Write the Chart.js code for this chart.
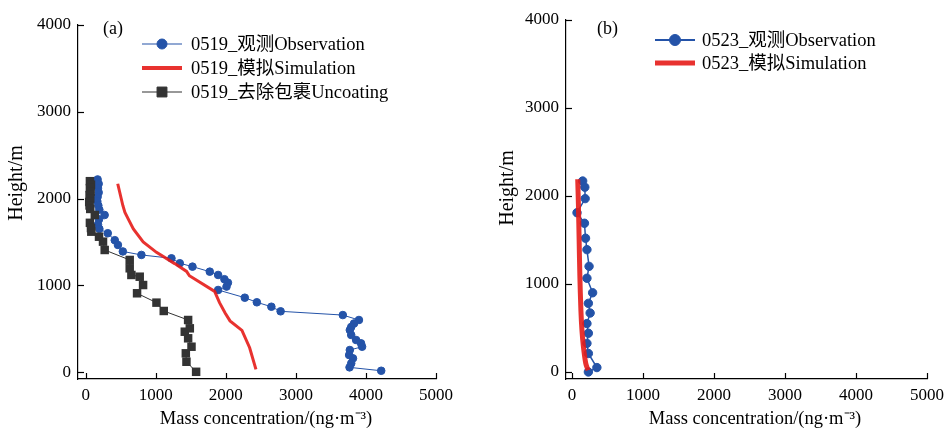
<!DOCTYPE html>
<html>
<head>
<meta charset="utf-8">
<script src="https://cdn.jsdelivr.net/npm/chart.js@4.4.1/dist/chart.umd.min.js"></script>
<style>
  html, body { margin: 0; padding: 0; background: #fff; overflow: hidden; }
  #wrap { position: relative; width: 946px; height: 430px; overflow: hidden; }
  .panel { position: absolute; top: 0; height: 430px; }
</style>
</head>
<body>
<div id="wrap">
  <div class="panel" style="left:0;width:473px"><canvas id="chartA"></canvas></div>
  <div class="panel" style="left:473px;width:480px"><canvas id="chartB"></canvas></div>
</div>
<script>
// tick values
const xTicks = [0, 1000, 2000, 3000, 4000, 5000];
const yTicks = [0, 1000, 2000, 3000, 4000];

// (a) 0519 observation
const obsA_conc = [170, 185, 175, 185, 170, 165, 180, 195, 270, 190, 175, 195, 315, 415, 460, 530, 795,
  1224, 1343, 1524, 1771, 1890, 1980, 2030, 2010, 1890, 2271, 2443, 2650, 2782, 3670, 3900, 3830, 3790,
  3770, 3790, 3860, 3930, 3945, 3770, 3760, 3815, 3790, 3766, 4218];
const obsA_height = [2220, 2170, 2120, 2070, 2020, 1970, 1920, 1870, 1810, 1760, 1700, 1650, 1600, 1520,
  1465, 1390, 1350, 1311, 1254, 1215, 1157, 1119, 1070, 1030, 985, 946, 857, 804, 753, 700, 657, 600, 560,
  520, 484, 427, 369, 331, 292, 254, 196, 158, 100, 54, 15];

// (a) 0519 simulation
const simA_conc = [457, 530, 560, 610, 680, 820, 1010, 1270, 1440, 1480, 1840, 1910, 1990, 2060, 2230, 2340, 2430];
const simA_height = [2170, 1920, 1840, 1760, 1650, 1500, 1380, 1250, 1160, 1110, 930, 800, 680, 590, 480, 280, 30];

// (a) 0519 uncoating
const uncA_conc = [60, 75, 60, 70, 55, 65, 50, 55, 65, 130, 60, 75, 80, 190, 247, 271, 628, 628, 652, 771,
  819, 733, 1010, 1114, 1462, 1486, 1414, 1462, 1510, 1429, 1438, 1576];
const uncA_height = [2200, 2160, 2120, 2080, 2040, 2000, 1960, 1920, 1880, 1810, 1720, 1660, 1618, 1560,
  1503, 1407, 1292, 1196, 1119, 1099, 1003, 908, 800, 704, 600, 504, 465, 389, 292, 216, 119, 3];

// (b) 0523 observation
const obsB_conc = [150, 180, 185, 70, 175, 190, 210, 240, 210, 290, 230, 255, 210, 230, 210, 230, 350, 230];
const obsB_height = [2170, 2100, 1970, 1810, 1690, 1520, 1390, 1200, 1065, 900, 780, 670, 550, 440, 325, 210, 50, 0];

// (b) 0523 simulation
const simB_conc = [80, 90, 100, 110, 125, 140, 160, 193, 225];
const simB_height = [2190, 1900, 1500, 1100, 700, 470, 290, 100, 20];

const labelsA = ['0519_观测Observation', '0519_模拟Simulation', '0519_去除包裹Uncoating'];
const labelsB = ['0523_观测Observation', '0523_模拟Simulation'];
const xTitle = 'Mass concentration/(ng·m⁻³)';
const yTitle = 'Height/m';

const FONT = "'Liberation Serif', 'Noto Sans CJK SC', serif";
const BLUE = '#2453a8';
const RED = 'rgba(230, 28, 24, 0.9)';
const DARK = '#333333';

function toPoints(xs, ys) {
  return xs.map((x, i) => ({ x: x, y: ys[i] }));
}

// inward ticks, panel tag, axis titles and legend
function decor(cfg) {
  return {
    id: 'decor',
    afterDraw(chart) {
      const ctx = chart.ctx;
      const xs = chart.scales.x, ys = chart.scales.y;
      ctx.save();
      ctx.strokeStyle = '#000';
      ctx.lineWidth = 1.2;
      xTicks.forEach(v => {
        const p = Math.round(xs.getPixelForValue(v)) + 0.5;
        ctx.beginPath();
        ctx.moveTo(p, xs.top);
        ctx.lineTo(p, xs.top - 6);
        ctx.stroke();
      });
      yTicks.forEach(v => {
        const p = Math.round(ys.getPixelForValue(v)) + 0.5;
        ctx.beginPath();
        ctx.moveTo(ys.right, p);
        ctx.lineTo(ys.right + 6, p);
        ctx.stroke();
      });

      ctx.fillStyle = '#000';
      ctx.font = '18px ' + FONT;
      ctx.textBaseline = 'middle';
      ctx.textAlign = 'left';
      ctx.fillText(cfg.tag, cfg.tagX, cfg.tagY);

      ctx.font = '18.5px ' + FONT;
      ctx.textAlign = 'center';
      ctx.fillText(xTitle, cfg.xTitleX, cfg.xTitleY);

      ctx.save();
      ctx.translate(cfg.yTitleX, cfg.yTitleY);
      ctx.rotate(-Math.PI / 2);
      ctx.textAlign = 'center';
      ctx.font = '20px ' + FONT;
      ctx.fillText(yTitle, 0, 0);
      ctx.restore();

      cfg.legend.forEach((item, i) => {
        const y = cfg.legY + i * cfg.legGap;
        ctx.strokeStyle = item.color;
        ctx.lineWidth = item.lineWidth;
        ctx.beginPath();
        ctx.moveTo(cfg.legX0, y);
        ctx.lineTo(cfg.legX1, y);
        ctx.stroke();
        if (item.pointStyle) {
          ctx.fillStyle = item.pointColor;
          ctx.strokeStyle = item.pointColor;
          ctx.lineWidth = 1;
          Chart.helpers.drawPoint(ctx, { pointStyle: item.pointStyle, radius: item.radius, rotation: 0, borderWidth: 1 },
            (cfg.legX0 + cfg.legX1) / 2, y);
        }
        ctx.fillStyle = '#000';
        ctx.font = '18.5px ' + FONT;
        ctx.textAlign = 'left';
        ctx.textBaseline = 'middle';
        ctx.fillText(item.label, cfg.legText, y + 1);
      });
      ctx.restore();
    }
  };
}

function makeChart(id, cfg) {
  return new Chart(document.getElementById(id), {
    type: 'scatter',
    data: { datasets: cfg.datasets },
    options: {
      responsive: true,
      maintainAspectRatio: false,
      animation: false,
      layout: { padding: cfg.padding },
      plugins: { legend: { display: false }, tooltip: { enabled: false } },
      scales: {
        x: {
          type: 'linear',
          min: cfg.xMin,
          max: 5000,
          afterBuildTicks: s => { s.ticks = xTicks.map(v => ({ value: v })); },
          afterFit: s => { s.height = 51; },
          grid: { display: false, drawTicks: false },
          border: { display: true, color: '#000', width: 1.2 },
          ticks: {
            color: '#000', font: { family: FONT, size: 17 }, padding: 6, maxRotation: 0, autoSkip: false,
            callback: v => String(v)
          }
        },
        y: {
          type: 'linear',
          min: -80,
          max: 4000,
          afterBuildTicks: s => { s.ticks = yTicks.map(v => ({ value: v })); },
          afterFit: s => { s.width = cfg.yWidth; },
          grid: { display: false, drawTicks: false },
          border: { display: true, color: '#000', width: 1.2 },
          ticks: {
            color: '#000', font: { family: FONT, size: 17 }, padding: 7, autoSkip: false,
            callback: v => String(v)
          }
        }
      }
    },
    plugins: [decor(cfg)]
  });
}

makeChart('chartA', {
  padding: { left: 0, top: 25, right: 37, bottom: 0 },
  yWidth: 78,
  xMin: -110,
  tag: '(a)', tagX: 103, tagY: 29,
  xTitleX: 266, xTitleY: 419,
  yTitleX: 17, yTitleY: 183,
  legX0: 142, legX1: 182, legText: 191, legY: 44, legGap: 24,
  legend: [
    { label: labelsA[0], color: BLUE, lineWidth: 1.2, pointStyle: 'circle', radius: 5, pointColor: BLUE },
    { label: labelsA[1], color: RED, lineWidth: 4 },
    { label: labelsA[2], color: DARK, lineWidth: 1.2, pointStyle: 'rect', radius: 7, pointColor: DARK }
  ],
  datasets: [
    {
      label: labelsA[0], data: toPoints(obsA_conc, obsA_height), showLine: true, order: 2,
      borderColor: BLUE, borderWidth: 1, backgroundColor: BLUE,
      pointStyle: 'circle', pointRadius: 3.8, pointBorderWidth: 1, pointBorderColor: BLUE
    },
    {
      label: labelsA[1], data: toPoints(simA_conc, simA_height), showLine: true, order: 0,
      borderColor: RED, borderWidth: 3, pointRadius: 0
    },
    {
      label: labelsA[2], data: toPoints(uncA_conc, uncA_height), showLine: true, order: 1,
      borderColor: DARK, borderWidth: 1, backgroundColor: DARK,
      pointStyle: 'rect', pointRadius: 6, pointBorderWidth: 0
    }
  ]
});

makeChart('chartB', {
  padding: { left: 0, top: 20, right: 26, bottom: 0 },
  yWidth: 93,
  xMin: -85,
  tag: '(b)', tagX: 124, tagY: 29,
  xTitleX: 282, xTitleY: 419,
  yTitleX: 35, yTitleY: 188,
  legX0: 182, legX1: 222, legText: 229, legY: 40, legGap: 23,
  legend: [
    { label: labelsB[0], color: BLUE, lineWidth: 1.8, pointStyle: 'circle', radius: 5.5, pointColor: BLUE },
    { label: labelsB[1], color: RED, lineWidth: 5 }
  ],
  datasets: [
    {
      label: labelsB[0], data: toPoints(obsB_conc, obsB_height), showLine: true, order: 1,
      borderColor: BLUE, borderWidth: 1.5, backgroundColor: BLUE,
      pointStyle: 'circle', pointRadius: 4.2, pointBorderWidth: 1, pointBorderColor: BLUE
    },
    {
      label: labelsB[1], data: toPoints(simB_conc, simB_height), showLine: true, order: 0,
      borderColor: RED, borderWidth: 5, pointRadius: 0, tension: 0.3
    }
  ]
});
</script>
</body>
</html>
